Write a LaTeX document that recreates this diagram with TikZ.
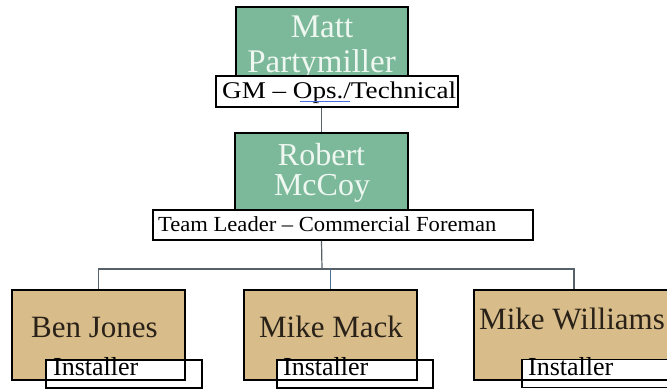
\documentclass[tikz,border=0pt]{standalone}
\usepackage{fontspec}
\setmainfont{Liberation Serif}
\newfontfamily\widegm[FakeStretch=1.13]{Liberation Serif}
\newfontfamily\wideteam[FakeStretch=1.05]{Liberation Serif}
\definecolor{boxgreen}{HTML}{7CB99A}
\definecolor{boxtan}{HTML}{D8BD8B}
\definecolor{lighttext}{HTML}{EEF7F0}
\definecolor{darktext}{HTML}{2A2218}
\definecolor{connline}{HTML}{56616A}
\definecolor{connblue}{HTML}{4F6E96}
\definecolor{spellblue}{HTML}{4A6EE0}
\begin{document}
\begin{tikzpicture}[x=1pt,y=-1pt,
  box/.style={draw=black,line width=2.2pt,inner sep=0pt,rectangle},
  greenbox/.style={box,fill=boxgreen,minimum width=172pt},
  tanfill/.style={fill=boxtan,inner sep=0pt,rectangle,minimum width=173pt,minimum height=90pt},
  tanborder/.style={draw=black,line width=2.2pt,inner sep=0pt,rectangle,minimum width=173pt,minimum height=90pt},
  labelbox/.style={draw=black,line width=1.8pt,fill=white,inner sep=0pt,rectangle},
  instbox/.style={labelbox,minimum width=156pt,minimum height=28pt},
  bigname/.style={text=lighttext,inner sep=0pt,anchor=base,font=\fontsize{32}{35}\selectfont},
  tanname/.style={text=darktext,inner sep=0pt,anchor=base,font=\fontsize{31}{35}\selectfont},
  roletext/.style={text=black,inner sep=0pt,anchor=base west},
  conn/.style={draw=connline,line width=1.2pt}
]
\useasboundingbox (0,0) rectangle (667,391);

% --- top: Matt Partymiller
\node[greenbox,minimum height=73pt] (Matt) at (322,43.5) {};
\node[bigname,font=\fontsize{33}{35}\selectfont] (MattA) at (322,37) {Matt};
\node[bigname,font=\fontsize{33}{35}\selectfont] (MattB) at (321.5,72) {Partymiller};
\node[labelbox,minimum width=242pt,minimum height=31pt] (GM) at (337,91.5) {};
\node[roletext,font=\widegm\fontsize{24}{28}\selectfont] (GMt) at (222,98) {GM – Ops./Technical};
\coordinate (ulA) at (300,101.5);
\coordinate (ulB) at (350,101.5);
\draw[spellblue,line width=0.9pt] (ulA) -- (ulB);

% --- middle: Robert McCoy
\node[greenbox,minimum width=173pt,minimum height=79pt] (Robert) at (321.5,172.5) {};
\node[bigname] (RobA) at (321.5,165) {Robert};
\node[bigname] (RobB) at (322,195) {McCoy};
\node[labelbox,minimum width=380pt,minimum height=30pt] (Team) at (343,225) {};
\node[roletext,font=\wideteam\fontsize{21.5}{25}\selectfont] (Teamt) at (158,231) {Team Leader – Commercial Foreman};

% --- connectors
\coordinate (bus) at (322,269);
\draw[conn] (Robert.north |- GM.south) -- (Robert.north);
\draw[conn] (Robert.south |- Team.south) -- (bus);

% --- bottom boxes
\node[tanfill] (Ben) at (98.5,335) {};
\node[tanfill] (Mack) at (330.5,335) {};
\node[tanfill,minimum width=200pt] (Will) at (574,335) {};

\draw[conn] (Ben.north) |- (bus) -| (Will.north);
\draw[conn,draw=connblue] (Mack.north |- bus) -- (Mack.north);

\node[instbox] (BenL) at (124,374) {};
\node[instbox] (MackL) at (355,374) {};
\node[instbox] (WillL) at (600,373.5) {};

\node[tanborder] (BenB) at (98.5,335) {};
\node[tanborder] (MackB) at (330.5,335) {};
\node[tanborder,minimum width=200pt] (WillB) at (574,335) {};

\node[tanname] (BenT) at (94.5,337) {Ben Jones};
\node[tanname] (MackT) at (331,337) {Mike Mack};
\node[tanname] (WillT) at (572,329) {Mike Williams};

\node[roletext,font=\fontsize{26}{28}\selectfont] (BenI) at (53,375) {Installer};
\node[roletext,font=\fontsize{26}{28}\selectfont] (MackI) at (283,375) {Installer};
\node[roletext,font=\fontsize{26}{28}\selectfont] (WillI) at (528,375) {Installer};
\end{tikzpicture}
\end{document}
